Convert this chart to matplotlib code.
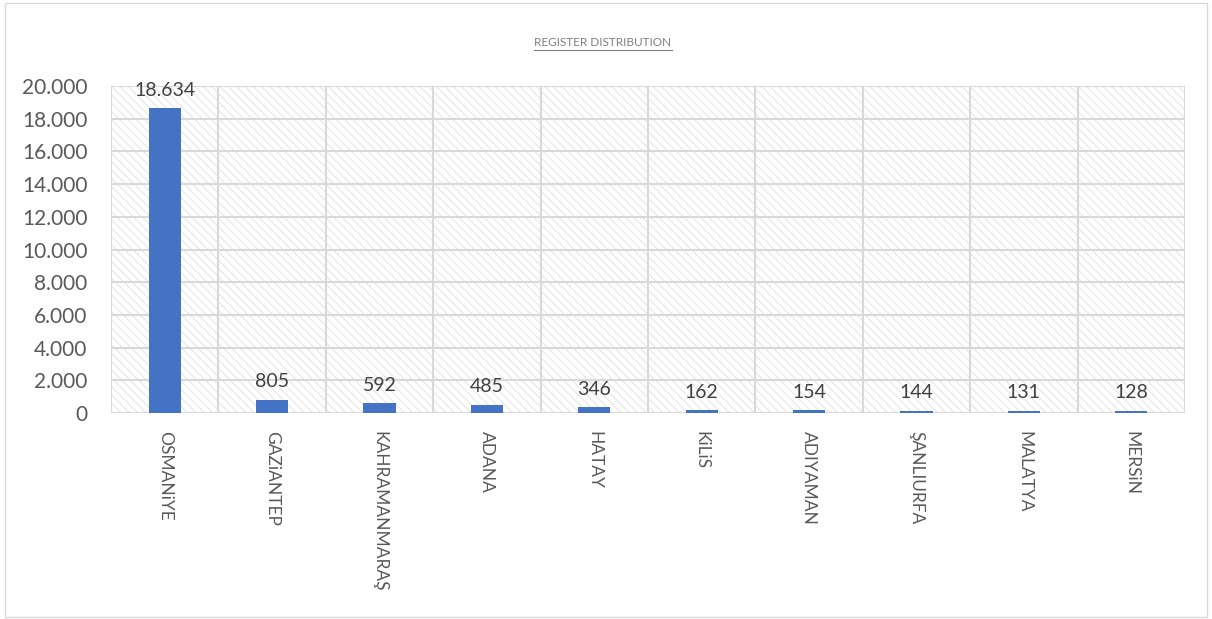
import matplotlib
matplotlib.use("Agg")
import matplotlib.pyplot as plt
from matplotlib.patches import Rectangle
from matplotlib.lines import Line2D
from matplotlib.ticker import FuncFormatter, MultipleLocator

plt.rcParams['font.family'] = ['Lato', 'DejaVu Sans']
plt.rcParams['hatch.linewidth'] = 0.7

cities = ["OSMANiYE", "GAZiANTEP", "KAHRAMANMARAŞ", "ADANA", "HATAY",
          "KiLiS", "ADIYAMAN", "ŞANLIURFA", "MALATYA", "MERSiN"]
registers = [18634, 805, 592, 485, 346, 162, 154, 144, 131, 128]
title = "REGISTER DISTRIBUTION"

W, H = 1212, 619
fig = plt.figure(figsize=(W / 100, H / 100), dpi=100)

# chart frame
fig.patches.append(Rectangle((5 / W, 2 / H), 1202 / W, 614 / H, transform=fig.transFigure,
                             fill=False, edgecolor="#d9d9d9", linewidth=1.0))

ax = fig.add_axes([111 / W, (H - 413) / H, (1185 - 111) / W, (413 - 86) / H])
ax.set_xlim(-0.5, len(cities) - 0.5)
ax.set_ylim(0, 20000)

# patterned plot area
ax.add_patch(Rectangle((0, 0), 1, 1, transform=ax.transAxes, facecolor="white",
                       edgecolor="#e4e4e4", hatch="\\\\\\\\", linewidth=0, zorder=0))

# gridlines
for y in range(0, 20001, 2000):
    ax.axhline(y, color="#d9d9d9", linewidth=1.5, zorder=1)
for i in range(len(cities) + 1):
    ax.axvline(i - 0.5, color="#d9d9d9", linewidth=1.5, zorder=1)

x = list(range(len(cities)))
bars = ax.bar(x, registers, width=0.3, color="#4472C4", zorder=3)

def fmt(v):
    return f"{int(v):,}".replace(",", ".")

for xi, v in zip(x, registers):
    ax.annotate(fmt(v), (xi, v), xytext=(0, 7), textcoords="offset points",
                ha="center", va="bottom", fontsize=14, color="#404040", zorder=4)

ax.yaxis.set_major_locator(MultipleLocator(2000))
ax.yaxis.set_major_formatter(FuncFormatter(lambda v, p: fmt(v)))
ax.tick_params(axis="y", length=0, labelsize=15, labelcolor="#595959", pad=17)
ax.tick_params(axis="x", length=0, pad=13)
ax.set_xticks(x)
ax.set_xticklabels(cities, rotation=-90, fontsize=12.5, color="#595959", va="top", ha="center")
for s in ax.spines.values():
    s.set_visible(False)

t = fig.text(603 / W, (H - 43) / H, title, ha="center", va="center",
             fontsize=8.5, color="#7f7f7f")
fig.canvas.draw()
bb = t.get_window_extent()
fig.lines.append(Line2D([bb.x0 / W, bb.x1 / W], [(bb.y0 - 1) / H, (bb.y0 - 1) / H],
                        transform=fig.transFigure, color="#7f7f7f", linewidth=0.8))

fig.savefig("out.png", dpi=100)
